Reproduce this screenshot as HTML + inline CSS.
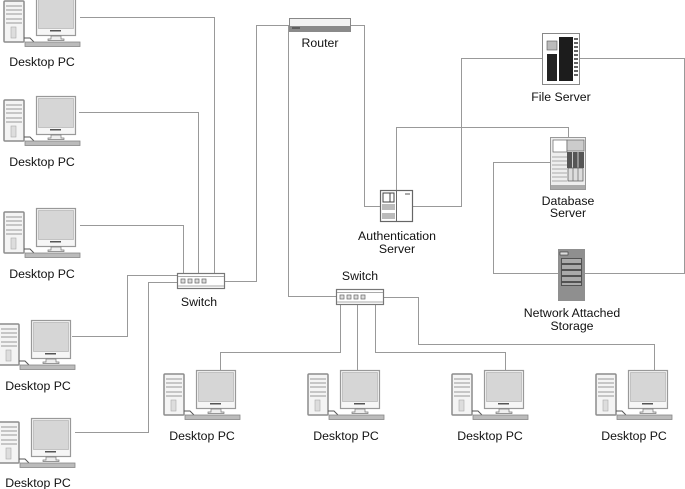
<!DOCTYPE html>
<html><head><meta charset="utf-8"><style>
html,body{margin:0;padding:0;background:#fff;width:685px;height:489px;overflow:hidden}
svg{display:block}
text{font-family:"Liberation Sans",sans-serif;font-size:12.3px;fill:#111;text-anchor:middle}
</style></head><body>
<svg width="685" height="489" viewBox="0 0 685 489" xmlns="http://www.w3.org/2000/svg">
<defs>
<g id="pc">
<rect x="-32" y="4" width="20" height="41" rx="1" fill="#f4f4f4" stroke="#8c8c8c" stroke-width="1.500"/>
<path d="M-30 9h16M-30 13h16M-30 17h16M-30 22h16M-30 26h16" stroke="#999" fill="none"/>
<rect x="-25" y="30" width="5" height="11" fill="#ddd" stroke="#aaa" stroke-width=".6"/>
<path d="M-12 41h6l4 4" stroke="#555" fill="none"/>
<rect x="0.500" y="0.500" width="39" height="38" fill="#f6f6f6" stroke="#999" stroke-width="1.200"/>
<rect x="2.500" y="2.500" width="35" height="29" fill="#d6d6d6" stroke="#aaa" stroke-width=".6"/>
<rect x="14" y="33" width="11" height="1.500" fill="#555"/>
<path d="M15 39v3h-3v1.500h16v-1.500h-3v-3z" fill="#eee" stroke="#777" stroke-width=".7"/>
<rect x="-11" y="45" width="55" height="4.500" fill="#bbb" stroke="#888" stroke-width=".8"/>
</g>
<g id="sw">
<rect x="0.500" y="0.500" width="47" height="15" fill="#fff" stroke="#777" stroke-width="1.200"/>
<path d="M1 3.500h46M1 13h46" stroke="#aaa"/>
<rect x="4" y="6" width="4" height="4" fill="#ddd" stroke="#666" stroke-width=".7"/>
<rect x="11" y="6" width="4" height="4" fill="#ddd" stroke="#666" stroke-width=".7"/>
<rect x="18" y="6" width="4" height="4" fill="#ddd" stroke="#666" stroke-width=".7"/>
<rect x="25" y="6" width="4" height="4" fill="#ddd" stroke="#666" stroke-width=".7"/>
</g>
</defs>
<g fill="none" stroke="#999" stroke-width="1">
<path d="M80 17.500H214.500V273"/>
<path d="M79 112.500H198.500V273"/>
<path d="M80 225.500H183.500V273"/>
<path d="M72 336.500H127.500V275.500H177"/>
<path d="M75 432.500H148.500V282.500H177"/>
<path d="M224 281.500H256.500V25.500H290"/>
<path d="M351 25.500H364.500V206.500H380"/>
<path d="M290 25.500H288.500V296.500H336"/>
<path d="M413 206.500H461.500V58.500H542"/>
<path d="M396.500 190V127.500H568.500V137"/>
<path d="M580 58.500H684.500V273.500H585"/>
<path d="M558 273.500H493.500V162.500H550"/>
<path d="M340.500 305V352.500H220.500V370"/>
<path d="M357.500 305V370"/>
<path d="M375.500 305V352.500H505.500V370"/>
<path d="M384 297.500H418.500V344.500H654.500V370"/>
</g>
<use href="#pc" x="36" y="-3"/><text x="42" y="66">Desktop PC</text>
<use href="#pc" x="36" y="96"/><text x="42" y="166">Desktop PC</text>
<use href="#pc" x="36" y="208"/><text x="42" y="278">Desktop PC</text>
<use href="#pc" x="31" y="320"/><text x="38" y="390">Desktop PC</text>
<use href="#pc" x="31" y="418"/><text x="38" y="487">Desktop PC</text>
<use href="#pc" x="196" y="370"/><text x="202" y="440">Desktop PC</text>
<use href="#pc" x="340" y="370"/><text x="346" y="440">Desktop PC</text>
<use href="#pc" x="484" y="370"/><text x="490" y="440">Desktop PC</text>
<use href="#pc" x="628" y="370"/><text x="634" y="440">Desktop PC</text>
<use href="#sw" x="177" y="273"/><text x="199" y="306">Switch</text>
<use href="#sw" x="336" y="289"/><text x="360" y="280">Switch</text>
<!-- Router -->
<rect x="289.500" y="18.500" width="61" height="13" fill="#f2f2f2" stroke="#888"/>
<rect x="290" y="26" width="60" height="6" fill="#8a8a8a"/>
<path d="M292 28h8" stroke="#333"/>
<text x="320" y="47">Router</text>
<!-- File server -->
<rect x="542.500" y="33.500" width="37" height="51" fill="#fff" stroke="#888"/>
<rect x="559" y="37" width="14" height="44" fill="#1c1c1c"/>
<path d="M574 39h4M574 43h4M574 47h4M574 51h4M574 55h4M574 59h4M574 63h4M574 67h4M574 71h4M574 75h4" stroke="#333" stroke-width="1.500"/>
<rect x="547" y="41" width="10" height="9" fill="#bbb" stroke="#555" stroke-width=".6"/>
<rect x="547" y="54" width="10" height="27" fill="#222"/>
<text x="561" y="101">File Server</text>
<!-- Database server -->
<rect x="550.500" y="137.500" width="35" height="52" fill="#eee" stroke="#999"/>
<path d="M552 157h15M552 161h15M552 165h15M552 169h15M552 173h15M552 177h15M552 181h15" stroke="#aaa"/>
<rect x="553" y="140" width="14" height="12" fill="#fff" stroke="#666" stroke-width=".7"/>
<rect x="567" y="140" width="17" height="11" fill="#ccc" stroke="#666" stroke-width=".7"/>
<rect x="567" y="152" width="17" height="16" fill="#555"/>
<path d="M572.500 152v16M578 152v16" stroke="#ccc"/>
<rect x="568" y="168" width="15" height="13" fill="#ddd" stroke="#555" stroke-width=".7"/>
<path d="M573 168v13M578 168v13" stroke="#666" stroke-width=".7"/>
<rect x="551" y="185" width="34" height="4" fill="#aaa"/>
<text x="568" y="205">Database</text>
<text x="568" y="217">Server</text>
<!-- NAS -->
<rect x="558" y="249" width="27" height="52" fill="#8f8f8f"/>
<rect x="560" y="252" width="8" height="3" fill="#ddd" stroke="#333" stroke-width=".6"/>
<g fill="#aaa" stroke="#333" stroke-width=".7">
<rect x="561.500" y="258.500" width="20" height="5"/>
<rect x="561.500" y="264.500" width="20" height="5"/>
<rect x="561.500" y="270.500" width="20" height="5"/>
<rect x="561.500" y="276.500" width="20" height="5"/>
<rect x="561.500" y="282.500" width="20" height="3"/>
</g>
<text x="572" y="317">Network Attached</text>
<text x="572" y="330">Storage</text>
<!-- Auth -->
<rect x="380.500" y="190.500" width="32" height="31" fill="#fff" stroke="#666" stroke-width="1.200"/>
<path d="M396.500 191v30" stroke="#666"/>
<rect x="383" y="193" width="11" height="9" fill="#fff" stroke="#444"/>
<path d="M390 193v9" stroke="#444"/>
<path d="M382 205h13M382 207h13M382 209h13M382 214h13M382 216h13M382 218h13" stroke="#777"/>
<rect x="405" y="193" width="5" height="2" fill="#aaa"/>
<text x="397" y="240">Authentication</text>
<text x="397" y="253">Server</text>
</svg>
</body></html>
